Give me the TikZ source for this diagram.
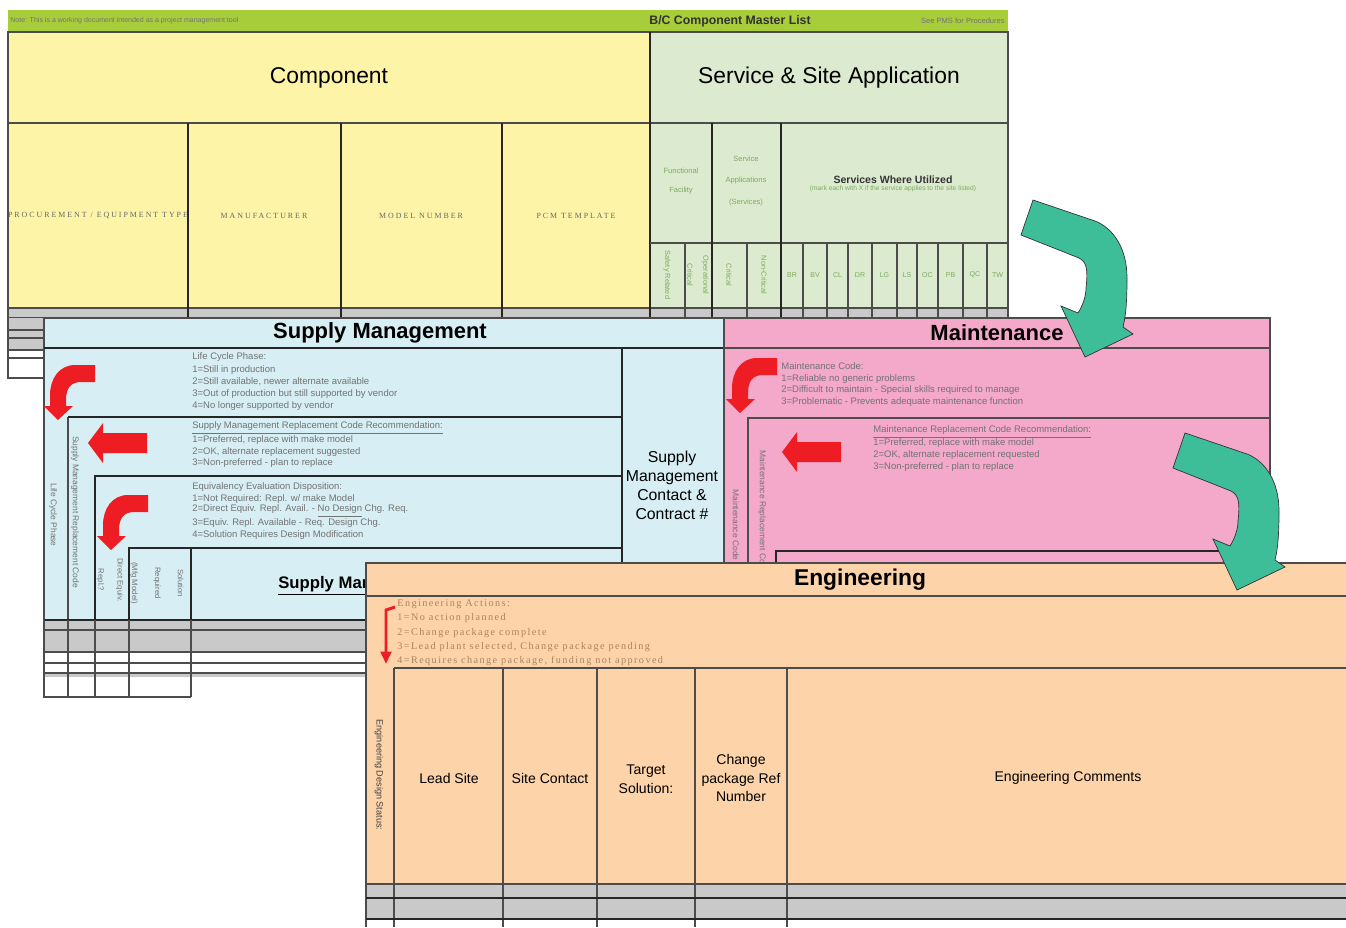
\documentclass[tikz,border=0pt]{standalone}
\usepackage{fontspec}
\setmainfont{Liberation Sans}
\newfontfamily\spacedserif[LetterSpace=14]{Liberation Serif}
\newfontfamily\widecaps[LetterSpace=25]{Liberation Serif}
\usetikzlibrary{arrows.meta}

\definecolor{bargreen}{HTML}{A8CD3A}
\definecolor{compyellow}{HTML}{FEF4A8}
\definecolor{servgreen}{HTML}{DCEBCF}
\definecolor{rowgray}{HTML}{C9C9C9}
\definecolor{supplyblue}{HTML}{D6EEF4}
\definecolor{maintpink}{HTML}{F4A8CA}
\definecolor{engpeach}{HTML}{FDD4A9}
\definecolor{turnteal}{HTML}{3DBE99}
\definecolor{flagred}{HTML}{EE1D24}
\definecolor{engbrown}{HTML}{B0805E}
\definecolor{servtext}{HTML}{7DAA5E}

\tikzset{
  cell/.style={draw=black!70, line width=0.6pt},
  heavy/.style={draw=black!85, line width=1pt},
  sheethead/.style={font=\fontsize{12.5}{14}\selectfont\bfseries, inner sep=0},
  listline/.style={font=\fontsize{5.4}{6.4}\selectfont, text=black!55, anchor=west, inner sep=0},
  englist/.style={font=\spacedserif\fontsize{5.8}{6.5}\selectfont, text=engbrown, anchor=west, inner sep=0},
  sidelabel/.style={font=\fontsize{4.8}{5.6}\selectfont, text=black!55, rotate=-90, align=center, inner sep=0},
  collabel/.style={font=\fontsize{8}{10.5}\selectfont, align=center, inner sep=0},
  capslabel/.style={font=\widecaps\fontsize{4.5}{5}\selectfont, text=black!60, inner sep=0},
  bentarrow/.pic={
    \fill[flagred] (0,0) -- (-20,0) .. controls (-36,0) and (-45,14) .. (-45,30) -- (-45,41) -- (-51,41)
      -- (-37,55) -- (-22,41) -- (-29,41) -- (-29,35) .. controls (-29,23) and (-24,17) .. (-14,17) -- (0,17) -- cycle;
  },
  leftarrow/.pic={
    \fill[flagred] (0,0) -- (-44,0) -- (-44,-10) -- (-59,10) -- (-44,30) -- (-44,20) -- (0,20) -- cycle;
  },
  turnarrow/.pic={
    \filldraw[fill=turnteal, draw=black!80, line width=0.4pt] (0,0) -- (62,21) .. controls (80,28) and (94,48) .. (94,78)
      .. controls (94,100) and (93,115) .. (90,127) -- (100,134) -- (52,157) -- (28,106) -- (45,113)
      .. controls (50,105) and (53,96) .. (53,88) .. controls (55,70) and (54,62) .. (46,58) -- (-12,35) -- cycle;
  }
}

\begin{document}
\begin{tikzpicture}[x=0.02cm, y=-0.02cm]
\useasboundingbox (0,0) rectangle (1346,927);

\fill[bargreen] (8,10) rectangle (1008,32);
\node[font=\fontsize{4}{5}\selectfont, text=black!55, anchor=west, inner sep=0] (barnote) at (10,21) {Note: This is a working document intended as a project management tool};
\node[font=\fontsize{7}{8}\selectfont\bfseries, text=black!80, inner sep=0] (bartitle) at (730,21) {B/C Component Master List};
\node[font=\fontsize{4.3}{5}\selectfont, text=black!55, anchor=east, inner sep=0] (barref) at (1005,21) {See PMS for Procedures};
\fill[compyellow] (8,32) rectangle (650,308);
\fill[servgreen] (650,32) rectangle (1008,308);
\fill[rowgray] (8,308) rectangle (1008,318);
\draw[cell] (8,32) rectangle (1008,318);
\draw[cell] (8,123) -- (1008,123);
\draw[cell] (8,308) -- (1008,308);
\draw[heavy] (650,32) -- (650,318);
\foreach \x in {188,341,502} \draw[heavy] (\x,123) -- (\x,318);
\draw[cell] (650,243) -- (1008,243);
\foreach \x in {712,781} \draw[heavy] (\x,123) -- (\x,318);
\foreach \x in {685,747,803,827,848,872,897,917,938,963,987} \draw[cell] (\x,243) -- (\x,318);
\node[font=\fontsize{13}{15}\selectfont, inner sep=0] (comphead) at (329,78) {Component};
\node[font=\fontsize{13}{15}\selectfont, inner sep=0] (servhead) at (829,78) {Service \& Site Application};
\begin{scope}
\clip (8,123) rectangle (188,308);
\node[capslabel] (proctype) at (98,216) {PROCUREMENT / EQUIPMENT TYPE};
\end{scope}
\node[capslabel] (manuf) at (264,216) {MANUFACTURER};
\node[capslabel] (modelno) at (421,216) {MODEL NUMBER};
\node[capslabel] (pcmtemp) at (576,216) {PCM TEMPLATE};
\node[font=\fontsize{4.3}{11}\selectfont, text=servtext, align=center, inner sep=0] (facility) at (681,181) {Functional\\Facility};
\node[font=\fontsize{4.3}{12}\selectfont, text=servtext, align=center, inner sep=0] (servapp) at (746,181) {Service\\Applications\\(Services)};
\node[font=\fontsize{6}{7}\selectfont\bfseries, text=black!80, inner sep=0] (whereused) at (893,180) {Services Where Utilized};
\node[font=\fontsize{3.8}{4.5}\selectfont, text=servtext, inner sep=0] (whereline) at (893,189) {(mark each with X if the service applies to the site listed)};
\node[sidelabel, text=servtext, font=\fontsize{4.2}{5}\selectfont] (safety) at (667,275) {Safety Related};
\node[sidelabel, text=servtext, font=\fontsize{4.2}{9}\selectfont] (opcrit) at (698,275) {Operational\\Critical};
\node[sidelabel, text=servtext, font=\fontsize{4.2}{5}\selectfont] (crit) at (729,275) {Critical};
\node[sidelabel, text=servtext, font=\fontsize{4.2}{5}\selectfont] (noncrit) at (764,275) {Non-Critical};
\foreach \code/\xa/\xb in {BR/781/803, BV/803/827, CL/827/848, DR/848/872, LG/872/897, LS/897/917, OC/917/938, PB/938/963, QC/963/987, TW/987/1008}
  \node[font=\fontsize{4}{5}\selectfont, text=servtext, inner sep=0] (site-\code) at ({(\xa+\xb)/2},275) {\code};
\fill[rowgray] (8,318) rectangle (44,350);
\draw[cell] (8,318) -- (8,378) -- (44,378);
\foreach \y in {330,338,350,358} \draw[cell] (8,\y) -- (44,\y);

\fill[supplyblue] (44,318) rectangle (724,620);
\fill[rowgray] (44,620) rectangle (366,652);
\fill[rowgray] (44,673) rectangle (366,677);
\draw[cell] (44,318) rectangle (724,620);
\draw[heavy] (44,348) -- (724,348);
\draw[heavy] (622,348) -- (622,620);
\draw[cell] (68,620) -- (68,417);
\draw[heavy] (68,417) -- (622,417);
\draw[heavy] (95,620) -- (95,476) -- (622,476);
\draw[heavy] (129,620) -- (129,548) -- (622,548);
\draw[heavy] (191,548) -- (191,620);
\draw[heavy] (44,620) -- (366,620);
\foreach \y in {630,652,663,673} \draw[cell] (44,\y) -- (366,\y);
\draw[cell] (44,620) -- (44,697) -- (191,697);
\foreach \x in {68,95,129,191} \draw[cell] (\x,620) -- (\x,697);
\node[sheethead] (supplyhead) at (380,333) {Supply Management};
\node[font=\fontsize{9}{10.8}\selectfont, align=center, inner sep=0] (contact) at (672,485) {Supply\\Management\\Contact \&\\Contract \#};
\node[listline] (lcp0) at (192,357) {Life Cycle Phase:};
\node[listline] (lcp1) at (192,370) {1=Still in production};
\node[listline] (lcp2) at (192,382) {2=Still available, newer alternate available};
\node[listline] (lcp3) at (192,394) {3=Out of production but still supported by vendor};
\node[listline] (lcp4) at (192,406) {4=No longer supported by vendor};
\node[listline] (smr0) at (192,428) {\underline{Supply Management Replacement Code Recommendation:}};
\node[listline] (smr1) at (192,440) {1=Preferred, replace with make model};
\node[listline] (smr2) at (192,452) {2=OK, alternate replacement suggested};
\node[listline] (smr3) at (192,463) {3=Non-preferred - plan to replace};
\node[listline] (eqv0) at (192,487) {Equivalency Evaluation Disposition:};
\node[listline] (eqv1) at (192,499) {1=Not Required: Repl. w/ make Model};
\node[listline] (eqv2) at (192,511) {2=Direct Equiv. Repl. Avail. - \underline{No Design} Chg. Req.};
\node[listline] (eqv3) at (192,523) {3=Equiv. Repl. Available - Req. Design Chg.};
\node[listline] (eqv4) at (192,535) {4=Solution Requires Design Modification};
\node[sidelabel] (lcplabel) at (53,515) {Life Cycle Phase};
\node[sidelabel] (smrlabel) at (75,512) {Supply Management Replacement Code};
\node[sidelabel, font=\fontsize{4.4}{11}\selectfont] (eqvlabel) at (110,580) {Direct Equiv.\\Repl.?};
\node[sidelabel, font=\fontsize{4.4}{13}\selectfont] (sollabel) at (157,583) {Solution\\Required\\(Mfg Model)};
\node[font=\fontsize{9.5}{11}\selectfont\bfseries, anchor=west, inner sep=0] (smcomments) at (278,586) {\underline{Supply Management Comments}};
\pic at (95,365) {bentarrow};
\pic at (147,433) {leftarrow};
\pic at (148,495) {bentarrow};

\fill[maintpink] (724,318) rectangle (1270,563);
\draw[cell] (724,563) -- (724,318) -- (1270,318) -- (1270,563);
\draw[cell] (724,348) -- (1270,348);
\draw[cell] (748,563) -- (748,418) -- (1270,418);
\draw[heavy] (776,563) -- (776,551) -- (1270,551);
\node[sheethead] (mainthead) at (997,333) {Maintenance};
\node[listline] (mc0) at (781,366) {Maintenance Code:};
\node[listline] (mc1) at (781,379) {1=Reliable no generic problems};
\node[listline] (mc2) at (781,390) {2=Difficult to maintain - Special skills required to manage};
\node[listline] (mc3) at (781,402) {3=Problematic - Prevents adequate maintenance function};
\node[listline] (mr0) at (873,432) {\underline{Maintenance Replacement Code Recommendation:}};
\node[listline] (mr1) at (873,443) {1=Preferred, replace with make model};
\node[listline] (mr2) at (873,455) {2=OK, alternate replacement requested};
\node[listline] (mr3) at (873,467) {3=Non-preferred - plan to replace};
\node[sidelabel] (mclabel) at (736,525) {Maintenance Code};
\node[sidelabel] (mrlabel) at (762,512) {Maintenance Replacement Code};
\pic at (777,358) {bentarrow};
\pic at (841,442) {leftarrow};

\fill[engpeach] (366,563) rectangle (1346,884);
\fill[rowgray] (366,884) rectangle (1346,919);
\draw[cell] (366,927) -- (366,563) -- (1346,563);
\draw[cell] (366,596) -- (1346,596);
\draw[cell] (394,668) -- (1346,668);
\foreach \x in {394,503,597,695,787} \draw[cell] (\x,668) -- (\x,927);
\draw[cell] (366,884) -- (1346,884);
\draw[heavy, line width=1.6pt] (366,898) -- (1346,898);
\draw[heavy] (366,919) -- (1346,919);
\node[sheethead, font=\fontsize{13}{15}\selectfont\bfseries] (enghead) at (860,580) {Engineering};
\node[englist] (ea0) at (397,604) {Engineering Actions:};
\node[englist] (ea1) at (397,618) {1=No action planned};
\node[englist] (ea2) at (397,633) {2=Change package complete};
\node[englist] (ea3) at (397,647) {3=Lead plant selected, Change package pending};
\node[englist] (ea4) at (397,661) {4=Requires change package, funding not approved};
\node[sidelabel, font=\fontsize{5.2}{6}\selectfont, text=black!75] (edslabel) at (379,775) {Engineering Design Status:};
\node[collabel] (leadsite) at (449,778) {Lead Site};
\node[collabel] (sitecontact) at (550,778) {Site Contact};
\node[collabel] (target) at (646,779) {Target\\Solution:};
\node[collabel] (changepkg) at (741,778) {Change\\package Ref\\Number};
\node[collabel] (engcomments) at (1068,778) {Engineering Comments};
\coordinate (redtop) at (395,607);
\coordinate (redbend) at (386,610);
\coordinate (redend) at (386,664);
\draw[flagred, line width=1.7pt, -{Triangle[length=7pt,width=6pt]}] (redtop) -- (redbend) -- (redend);

\pic at (1033,200) {turnarrow};
\pic at (1185,433) {turnarrow};
\end{tikzpicture}
\end{document}
